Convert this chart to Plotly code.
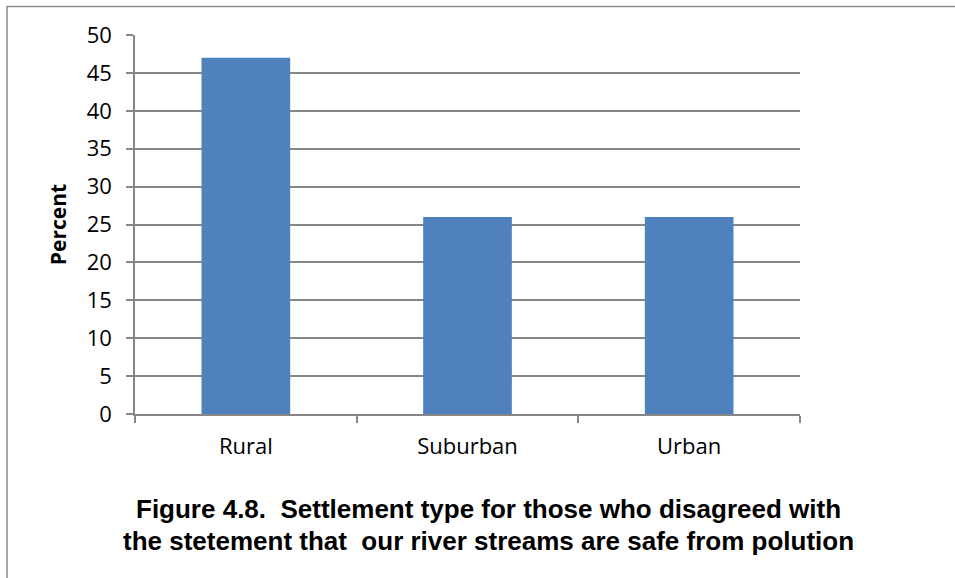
import plotly.graph_objects as go

categories = ["Rural", "Suburban", "Urban"]
values = [47, 26, 26]
y_ticks = [0, 5, 10, 15, 20, 25, 30, 35, 40, 45, 50]
title_lines = ["Figure 4.8.  Settlement type for those who disagreed with",
               "the stetement that  our river streams are safe from polution"]

L, R, T, B = 135, 155, 35, 164
W, H = 955, 578
pw, ph = W - L - R, H - T - B

def px_x(x):
    return (x - L) / pw

def px_y(y):
    return (H - B - y) / ph

fig = go.Figure(go.Bar(x=categories, y=values, marker_color="#4F81BD",
                       marker_line_width=0, width=0.4))

grid = "#868686"
tickfont = dict(size=22, family="Open Sans, sans-serif", color="black")
fig.update_layout(
    width=W, height=H,
    margin=dict(l=L, r=R, t=T, b=B),
    paper_bgcolor="white", plot_bgcolor="white",
    showlegend=False,
    font=dict(family="Open Sans, sans-serif", color="black"),
    xaxis=dict(showline=True, linecolor=grid, linewidth=1.5, ticks="outside",
               tickson="boundaries", ticklen=7, tickcolor=grid, tickwidth=1.5,
               tickfont=tickfont, showgrid=False, ticklabelstandoff=12),
    yaxis=dict(range=[0, 50.0001], tickvals=y_ticks, showline=True, linecolor=grid,
               linewidth=1.5, ticks="outside", ticklen=7, tickcolor=grid,
               tickwidth=1.5, showgrid=True, gridcolor=grid, gridwidth=1.5,
               tickfont=tickfont, zeroline=False, ticklabelstandoff=10,
               title=dict(text="<b>Percent</b>", font=dict(size=21,
                          family="Open Sans, sans-serif"), standoff=14)),
    shapes=[dict(type="rect", xref="paper", yref="paper",
                 x0=px_x(7), x1=2, y0=-1, y1=px_y(6.5),
                 line=dict(color="#8c8c8c", width=1.5), fillcolor="rgba(0,0,0,0)",
                 layer="below")],
    annotations=[dict(text="<b>" + t + "</b>", xref="paper", yref="paper",
                      x=px_x(488), y=px_y(cy), xanchor="center",
                      yanchor="middle", showarrow=False,
                      font=dict(size=26, family="Liberation Sans Narrow, Arial Narrow, Liberation Sans, sans-serif"))
                 for t, cy in zip(title_lines, [509, 541])],
)

fig.write_html("out.html")
